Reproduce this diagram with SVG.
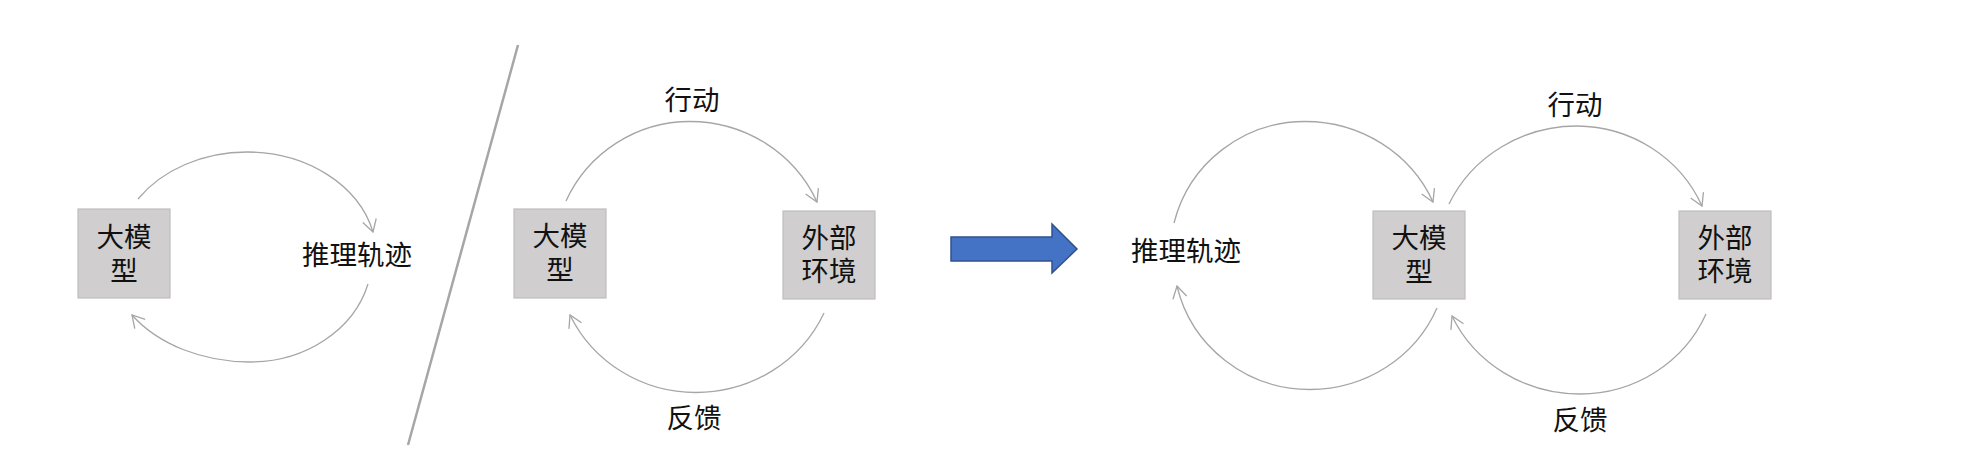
<svg xmlns="http://www.w3.org/2000/svg" width="1971" height="475" viewBox="0 0 1971 475">
<style>
.box{fill:#D0CECE;stroke:#BFBFBF;stroke-width:1.2}
.t{font-family:"Noto Sans CJK SC","Noto Sans CJK JP",sans-serif;font-size:27.5px;fill:#111;text-anchor:middle}
.arc{fill:none;stroke:#A6A6A6;stroke-width:1.3;marker-end:url(#ah)}
</style>
<defs>
<marker id="ah" markerUnits="userSpaceOnUse" markerWidth="14" markerHeight="16" viewBox="0 0 14 16" refX="13" refY="8" orient="auto">
<path d="M1,1 L13,8 L1,15" fill="none" stroke="#A6A6A6" stroke-width="1.3"/>
</marker>
</defs>
<rect width="1971" height="475" fill="#fff"/>
<g id="connectors">
<path class="arc" d="M138,199 A130.7,105 0 0 1 247,152 A129.8,105 0 0 1 373,232"/>
<path class="arc" d="M368,284 A122.2,105 0 0 1 250,362 A141.5,105 0 0 1 132,315"/>
<path class="arc" d="M566,201 A136.2,135.5 0 0 1 690,121.5 A139,135.5 0 0 1 817,202"/>
<path class="arc" d="M824,313 A140.6,135.5 0 0 1 696,392.5 A139.4,135.5 0 0 1 570,315"/>
<path class="arc" d="M1174,223 A135,134 0 0 1 1305,121.5 A139.6,134 0 0 1 1433,202"/>
<path class="arc" d="M1437,308 A138,134 0 0 1 1310,389.5 A136.6,134 0 0 1 1177,286"/>
<path class="arc" d="M1449,204 A141,134 0 0 1 1577,126 A137.6,134 0 0 1 1702,206"/>
<path class="arc" d="M1706,314 A137.7,134 0 0 1 1580,394 A140.9,134 0 0 1 1452,316"/>
<line x1="518" y1="45" x2="408" y2="445" stroke="#A6A6A6" stroke-width="2.5"/>
<polygon points="951,237 1052,237 1052,224 1077,249 1052,273 1052,261 951,261" fill="#4472C4" stroke="#2F528F" stroke-width="1.5"/>
</g>
<g id="llm1">
<rect class="box" x="78" y="209" width="92" height="89"/>
<text class="t"><tspan x="124" y="247">大模</tspan><tspan x="124" y="281">型</tspan></text>
</g>
<g id="trace1">
<text class="t" x="357" y="265">推理轨迹</text>
</g>
<g id="llm2">
<rect class="box" x="514" y="209" width="92" height="89"/>
<text class="t"><tspan x="560" y="246">大模</tspan><tspan x="560" y="280">型</tspan></text>
</g>
<g id="env2">
<rect class="box" x="783" y="211" width="92" height="88"/>
<text class="t"><tspan x="829" y="248">外部</tspan><tspan x="829" y="281">环境</tspan></text>
</g>
<g id="labels2">
<text class="t" x="692" y="110">行动</text>
<text class="t" x="694" y="428">反馈</text>
</g>
<g id="trace3">
<text class="t" x="1186" y="261">推理轨迹</text>
</g>
<g id="llm3">
<rect class="box" x="1373" y="211" width="92" height="88"/>
<text class="t"><tspan x="1419" y="248">大模</tspan><tspan x="1419" y="282">型</tspan></text>
</g>
<g id="env3">
<rect class="box" x="1679" y="211" width="92" height="88"/>
<text class="t"><tspan x="1725" y="248">外部</tspan><tspan x="1725" y="281">环境</tspan></text>
</g>
<g id="labels3">
<text class="t" x="1575" y="115">行动</text>
<text class="t" x="1580" y="430">反馈</text>
</g>
</svg>
